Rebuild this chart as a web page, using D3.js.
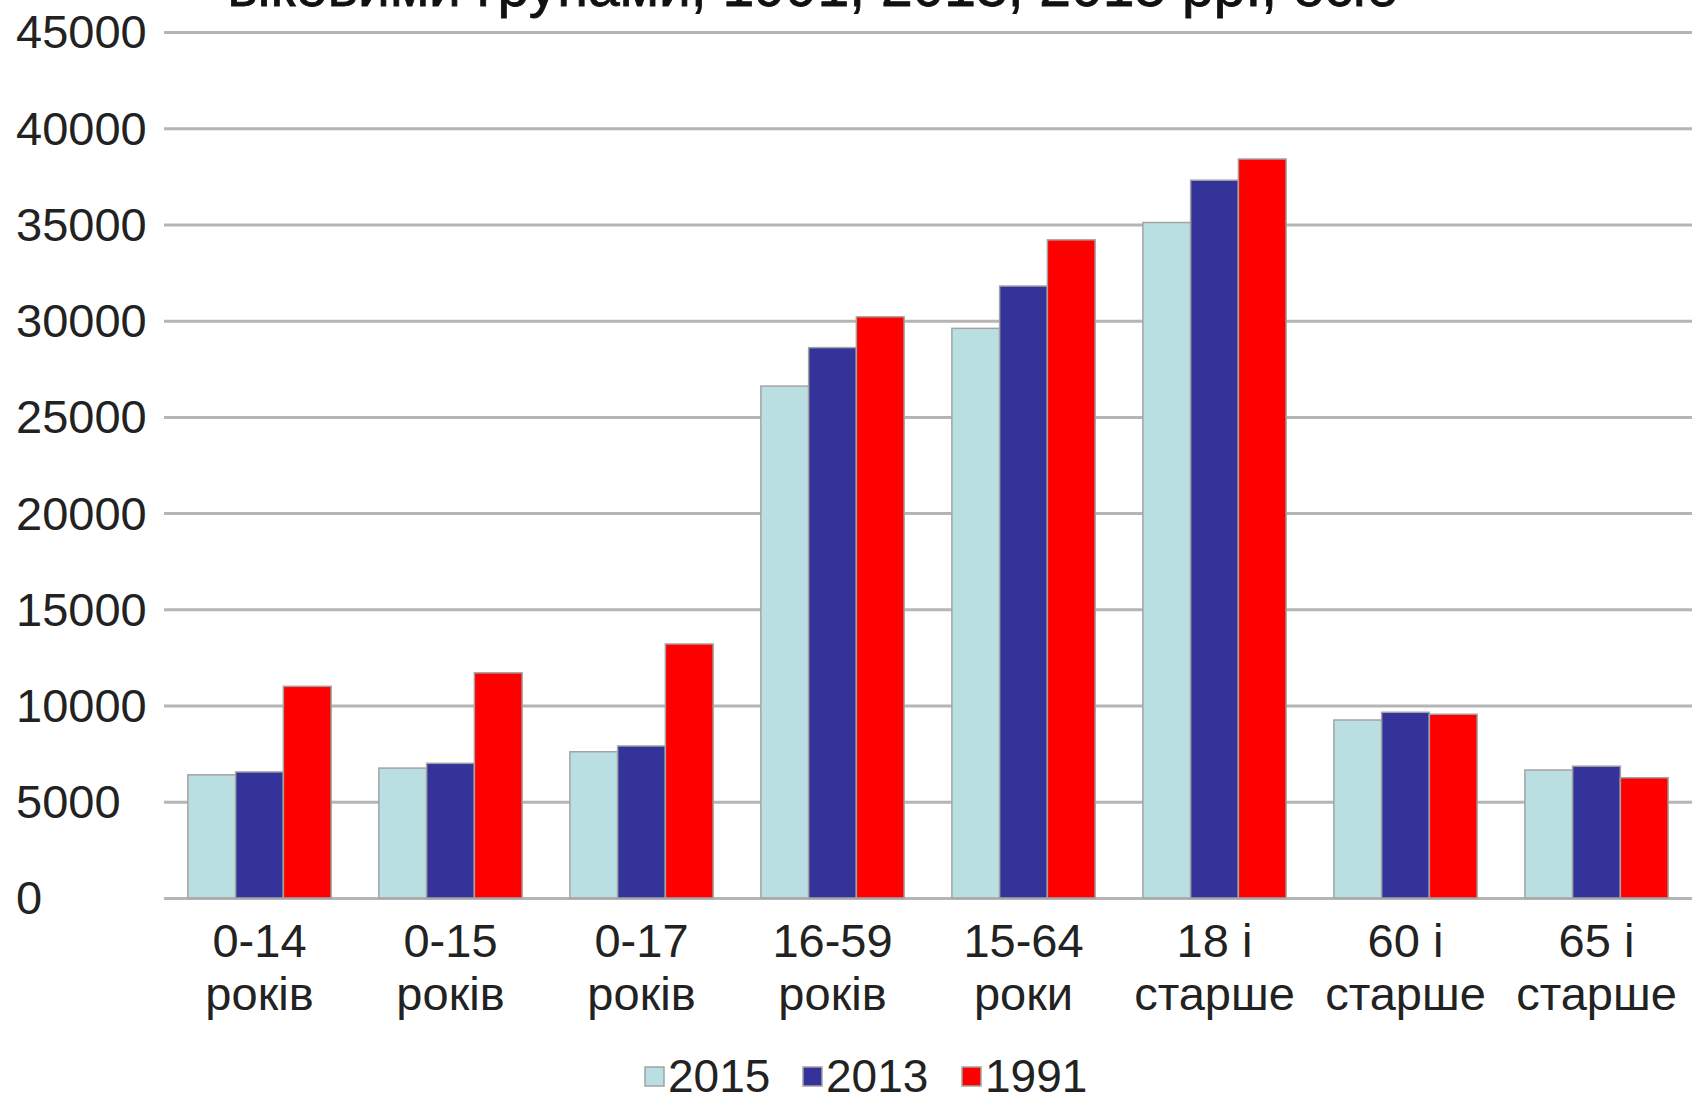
<!DOCTYPE html>
<html>
<head>
<meta charset="utf-8">
<script src="https://cdn.jsdelivr.net/npm/d3@7"></script>
<style>
  html, body { margin: 0; padding: 0; background: #fff; overflow: hidden; }
  svg { display: block; font-family: "Liberation Sans", Arial, sans-serif; }
</style>
</head>
<body>
<svg id="chart" width="1692" height="1096"></svg>
<script>
const titleText = "віковими групами, 1991, 2013, 2015 рр., осіб";
const categories = [
  ["0-14", "років"], ["0-15", "років"], ["0-17", "років"], ["16-59", "років"],
  ["15-64", "роки"], ["18 і", "старше"], ["60 і", "старше"], ["65 і", "старше"]
];
const seriesNames = ["2015", "2013", "1991"];
const values2015 = [6400, 6750, 7600, 26600, 29600, 35100, 9250, 6650];
const values2013 = [6550, 7000, 7900, 28600, 31800, 37300, 9650, 6850];
const values1991 = [11000, 11700, 13200, 30200, 34200, 38400, 9550, 6250];
const yTicks = [0, 5000, 10000, 15000, 20000, 25000, 30000, 35000, 40000, 45000];
const colors = ["#b9dfe2", "#333399", "#ff0000"];

const seriesValues = [values2015, values2013, values1991];

const svg = d3.select("#chart");
const plotLeft = 164, plotRight = 1692, plotTop = 32, plotBottom = 898;

const x = d3.scaleBand()
  .domain(d3.range(categories.length))
  .range([plotLeft, plotRight])
  .paddingInner(0.25)
  .paddingOuter(0.125);
const xs = d3.scaleBand()
  .domain(d3.range(seriesNames.length))
  .range([0, x.bandwidth()])
  .padding(0);
const y = d3.scaleLinear().domain([0, 45000]).range([plotBottom, plotTop]);

// Title (cut off at top, as in the original picture)
svg.append("text")
  .attr("x", 813).attr("y", 6)
  .attr("text-anchor", "middle")
  .attr("font-size", 57)
  .attr("fill", "#111")
  .attr("stroke", "#111").attr("stroke-width", 0.8)
  .text(titleText);

// Gridlines
const grid = svg.append("g")
  .attr("transform", `translate(${plotLeft},0)`)
  .call(d3.axisRight(y).tickValues(yTicks).tickSize(plotRight - plotLeft).tickFormat(""));
grid.select(".domain").remove();
grid.selectAll(".tick line").attr("stroke", "#b5b5b5").attr("stroke-width", 3);

// Y labels (left aligned)
svg.append("g").selectAll("text").data(yTicks).join("text")
  .attr("x", 16)
  .attr("y", d => y(d))
  .attr("dy", "0.35em")
  .attr("font-size", 47)
  .attr("fill", "#222")
  .text(d => d);

// Bars
const groups = svg.append("g").selectAll("g").data(categories).join("g")
  .attr("transform", (d, i) => `translate(${x(i)},0)`);
groups.selectAll("rect")
  .data((d, i) => seriesValues.map((vals, s) => ({ s, v: vals[i] })))
  .join("rect")
  .attr("x", d => xs(d.s))
  .attr("y", d => y(d.v))
  .attr("width", xs.bandwidth())
  .attr("height", d => y(0) - y(d.v))
  .attr("fill", d => colors[d.s])
  .attr("stroke", "#a3a3a3")
  .attr("stroke-width", 1.5);

// X labels
const xl = svg.append("g").selectAll("text").data(categories).join("text")
  .attr("text-anchor", "middle")
  .attr("font-size", 47)
  .attr("fill", "#222");
xl.append("tspan").attr("x", (d, i) => x(i) + x.bandwidth() / 2).attr("y", 957).text(d => d[0]);
xl.append("tspan").attr("x", (d, i) => x(i) + x.bandwidth() / 2).attr("y", 1010).text(d => d[1]);

// Legend
const legendX = [645, 803, 962];
const lg = svg.append("g").selectAll("g").data(seriesNames).join("g")
  .attr("transform", (d, i) => `translate(${legendX[i]},0)`);
lg.append("rect")
  .attr("x", 0).attr("y", 1067).attr("width", 19).attr("height", 19)
  .attr("fill", (d, i) => colors[i])
  .attr("stroke", "#a3a3a3").attr("stroke-width", 1.5);
lg.append("text")
  .attr("x", 23).attr("y", 1092)
  .attr("font-size", 46)
  .attr("fill", "#222")
  .text(d => d);
</script>
</body>
</html>
